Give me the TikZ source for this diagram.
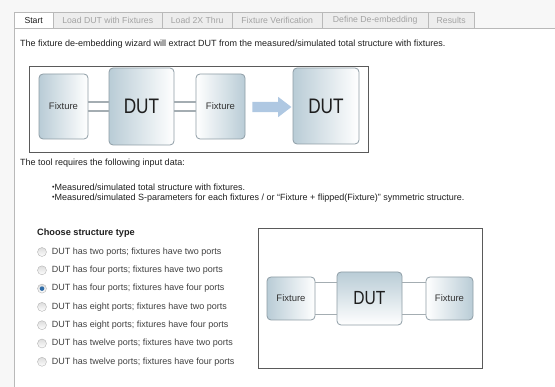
\documentclass[tikz,border=0pt]{standalone}
\usepackage{fontspec}
\setmainfont{Liberation Sans}
\usetikzlibrary{positioning,shapes.arrows}
\definecolor{ink}{HTML}{1E1E1E}
\definecolor{boxtext}{HTML}{333333}
\definecolor{tabfill}{HTML}{EDEDED}
\definecolor{tabline}{HTML}{B9B9B9}
\definecolor{tabtext}{HTML}{A3A3A3}
\definecolor{stripgray}{HTML}{F7F7F7}
\definecolor{steel}{HTML}{B9CCD6}
\definecolor{boxline}{HTML}{8E9DA5}
\definecolor{wire}{HTML}{A4ADB2}
\definecolor{framegray}{HTML}{5A5A5A}
\definecolor{arrowblue}{HTML}{AFC8E2}
\definecolor{radioline}{HTML}{B4B4B4}
\definecolor{radiofill}{HTML}{DCDCDC}
\definecolor{radioblue}{HTML}{2F6CA8}
\tikzset{
  tab/.style={rectangle,draw=tabline,fill=tabfill,text=tabtext,font=\fontsize{8.7}{9}\selectfont,minimum height=16pt,inner sep=0pt,anchor=north west},
  body/.style={anchor=west,inner sep=0pt,text=ink,font=\fontsize{9}{10}\selectfont},
  fixbox/.style={rectangle,rounded corners=4pt,draw=boxline,thick,text=boxtext,font=\fontsize{9.5}{10}\selectfont,inner sep=0pt},
  dutbox/.style={fixbox,text=ink,font=\fontsize{21}{21}\selectfont},
  frame/.style={draw=framegray,line width=0.8pt},
  wires/.style={draw=wire,line width=1.1pt},
  radio/.style={circle,draw=radioline,top color=radiofill,bottom color=white,minimum size=9pt,inner sep=0pt},
  radiolab/.style={body,text=ink!85}
}
\newcommand{\Dut}{\scalebox{0.82}[1]{DUT}}
\newcommand{\dotmark}{\raisebox{0.2ex}{\fontsize{7}{7}\selectfont\textbullet}}
\begin{document}
\begin{tikzpicture}[x=1pt,y=-1pt]
  \useasboundingbox (0,0) rectangle (555,387);
  % window background and tab strip
  \fill[stripgray] (0,0) rectangle (555,28);
  \fill[stripgray] (0,28) rectangle (14,387);
  \draw[tabline] (14,387) -- (14,28) -- (555,28);
  \node[tab,fill=white,text=ink,minimum width=39pt] (tStart) at (14,12) {Start};
  \node[tab,minimum width=109pt] (tLoad) at (53,12) {Load DUT with Fixtures};
  \node[tab,minimum width=70pt] (tThru) at (162,12) {Load 2X Thru};
  \node[tab,minimum width=90pt] (tVerify) at (232,12) {Fixture Verification};
  \node[tab,minimum width=106pt] (tDefine) at (322,12) {Define De-embedding};
  \node[tab,minimum width=46pt] (tResults) at (428,12) {Results};
  \draw[white,line width=1pt] (14.5,28) -- (52.5,28);

  \node[body] (intro) at (20,44) {The fixture de-embedding wizard will extract DUT from the measured/simulated total structure with fixtures.};

  % upper picture
  \draw[frame] (29,66) rectangle (368,152);
  \node[fixbox,left color=steel,right color=white,minimum width=49pt,minimum height=65pt] (fixA) at (63.5,106.5) {Fixture};
  \node[dutbox,left color=steel,right color=white,minimum width=65pt,minimum height=77pt] (dutA) at (141.5,106.5) {\Dut};
  \node[fixbox,left color=white,right color=steel,minimum width=49pt,minimum height=65pt] (fixB) at (220.5,106.5) {Fixture};
  \draw[wires] ([yshift=4.5pt]fixA.east) -- ([yshift=4.5pt]dutA.west);
  \draw[wires] ([yshift=-4.5pt]fixA.east) -- ([yshift=-4.5pt]dutA.west);
  \draw[wires] ([yshift=4.5pt]dutA.east) -- ([yshift=4.5pt]fixB.west);
  \draw[wires] ([yshift=-4.5pt]dutA.east) -- ([yshift=-4.5pt]fixB.west);
  \node[single arrow,fill=arrowblue,draw=none,minimum height=39pt,inner xsep=0pt,inner ysep=5pt,
        single arrow head extend=5pt,single arrow tip angle=75] (arr) at (268.5,107) {};
  \node[dutbox,left color=steel,right color=white,minimum width=66pt,minimum height=76pt] (dutB) at (326,106) {\Dut};

  \node[body] (needs) at (20,163) {The tool requires the following input data:};
  \node[body] (need1) at (52,187) {\dotmark Measured/simulated total structure with fixtures.};
  \node[body] (need2) at (52,198) {\dotmark Measured/simulated S-parameters for each fixtures / or ``Fixture + flipped(Fixture)'' symmetric structure.};

  % structure choice
  \node[body,font=\fontsize{9.2}{10}\selectfont\bfseries] (choose) at (37,233) {Choose structure type};
  \foreach \lab [count=\i] in {DUT has two ports; fixtures have two ports,
      DUT has four ports; fixtures have two ports,
      DUT has four ports; fixtures have four ports,
      DUT has eight ports; fixtures have two ports,
      DUT has eight ports; fixtures have four ports,
      DUT has twelve ports; fixtures have two ports,
      DUT has twelve ports; fixtures have four ports}{
    \node[radio] (r\i) at (42,{233.7+18.3*\i}) {};
    \node[radiolab,right=5pt of r\i] (l\i) {\lab};
  }
  \fill[radioblue] (r3.center) circle (2.3pt);

  % lower picture
  \draw[frame] (258,228) rectangle (482,368);
  \node[fixbox,left color=steel,right color=white,minimum width=48pt,minimum height=43pt] (fixC) at (291,298.5) {Fixture};
  \node[dutbox,top color=steel,bottom color=white,minimum width=65pt,minimum height=53pt,font=\fontsize{19}{19}\selectfont] (dutC) at (369.5,298.5) {\Dut};
  \node[fixbox,left color=white,right color=steel,minimum width=47pt,minimum height=43pt] (fixD) at (449.5,298.5) {Fixture};
  \draw[wires] ([yshift=16pt]fixC.east) -- ([yshift=16pt]dutC.west);
  \draw[wires] ([yshift=-16pt]fixC.east) -- ([yshift=-16pt]dutC.west);
  \draw[wires] ([yshift=16pt]dutC.east) -- ([yshift=16pt]fixD.west);
  \draw[wires] ([yshift=-16pt]dutC.east) -- ([yshift=-16pt]fixD.west);
\end{tikzpicture}
\end{document}
